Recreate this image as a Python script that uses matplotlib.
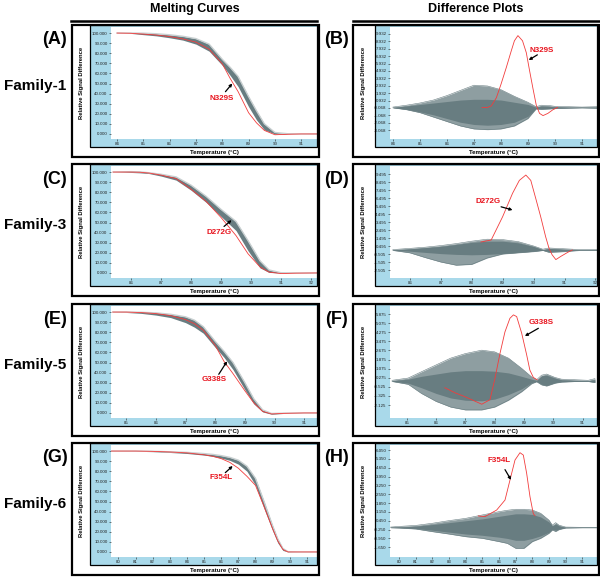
import matplotlib.pyplot as plt
from matplotlib.patches import Rectangle
from matplotlib.lines import Line2D

plt.rcParams['font.family'] = ['Liberation Sans', 'DejaVu Sans']

# ---- data ----
MELT_YTICKS = [100, 90, 80, 70, 60, 50, 40, 30, 20, 10, 0]

# Family-1
A_TEMP = [84.0, 84.5, 85.0, 85.5, 86.0, 86.5, 87.0, 87.5, 88.0, 88.3, 88.6, 89.0, 89.3, 89.6, 90.0, 90.5, 91.0, 91.6]
A_HI = [100, 100, 99.9, 99.3, 98.3, 96.8, 94.5, 89, 74, 66, 57, 37, 23, 10, 1.5, 0.2, 0, 0]
A_LO = [100, 99.7, 98.4, 97.2, 95.3, 93, 89, 82, 68, 58, 47, 27, 14, 4, 0, 0, 0, 0]
A_RED = [100, 99.8, 99, 98, 96.5, 94.2, 91, 84, 69.5, 55, 42, 21, 11, 3.5, -0.8, -0.3, 0, 0]
A_XTICKS = [84, 85, 86, 87, 88, 89, 90, 91]

B_TEMP = [84.0, 84.5, 85.0, 85.5, 86.0, 86.5, 87.0, 87.5, 88.0, 88.5, 89.0, 89.3, 89.5, 89.8, 90.0, 90.5, 91.0, 91.56]
B_HI = [0.05, 0.3, 0.6, 1.0, 1.6, 2.3, 3.0, 2.9, 2.4, 1.5, 0.7, 0.1, 0.3, 0.25, 0.15, 0.1, 0.05, 0.1]
B_LO = [-0.05, -0.3, -0.7, -1.3, -1.9, -2.5, -2.9, -3.0, -2.9, -2.5, -1.5, -0.2, -0.25, -0.2, -0.15, -0.1, -0.05, -0.1]
B_CORE_HI = [0.03, 0.2, 0.4, 0.6, 0.8, 1.0, 1.1, 1.1, 1.0, 0.7, 0.4, 0.05, 0.2, 0.15, 0.1, 0.05, 0.03, 0.05]
B_CORE_LO = [-0.03, -0.25, -0.6, -1.0, -1.5, -2.0, -2.3, -2.4, -2.3, -2.0, -1.2, -0.15, -0.2, -0.15, -0.1, -0.05, -0.03, -0.05]
B_RED_TEMP = [87.3, 87.5, 87.64, 87.83, 88.0, 88.2, 88.38, 88.5, 88.63, 88.8, 88.94, 89.06, 89.19, 89.31, 89.43, 89.56, 89.74, 89.93, 90.1]
B_RED = [0.0, 0.0, 0.2, 1.3, 3.1, 5.4, 7.6, 9.0, 9.7, 9.0, 7.4, 5.0, 2.5, 0.3, -0.8, -1.1, -0.8, -0.3, 0.0]
B_YTICKS = [9.932, 8.932, 7.932, 6.932, 5.932, 4.932, 3.932, 2.932, 1.932, 0.932, -0.068, -1.068, -2.068, -3.068]

# Family-3
C_TEMP = [85.4, 86.0, 86.3, 86.6, 87.0, 87.5, 88.0, 88.5, 89.0, 89.5, 89.9, 90.3, 90.6, 91.0, 91.5, 92.2]
C_HI = [100, 100.4, 100.2, 99.3, 97.8, 95.2, 87, 76, 63, 51, 32, 12, 3, 0.2, 0, 0]
C_LO = [100, 99.6, 99.2, 98.5, 96, 92, 82, 70, 56, 42, 22, 5, 0.5, 0, 0, 0]
C_RED = [100, 100, 99.8, 99.0, 97, 93.5, 83, 71, 55, 37, 19, 6, 0.8, -0.6, -0.2, 0]
C_XTICKS = [86, 87, 88, 89, 90, 91, 92]

D_TEMP = [85.45, 86.0, 86.5, 87.0, 87.5, 88.0, 88.5, 89.0, 89.5, 90.0, 90.3, 90.5, 91.0, 91.5, 92.05]
D_HI = [0.05, 0.2, 0.35, 0.55, 0.8, 1.1, 1.35, 1.3, 1.05, 0.5, 0.1, 0.25, 0.15, 0.05, 0.05]
D_LO = [-0.05, -0.35, -0.95, -1.5, -1.9, -1.8, -1.0, -0.5, -0.35, -0.2, -0.05, -0.3, -0.2, -0.05, -0.05]
D_CORE_HI = [0.03, 0.15, 0.3, 0.45, 0.7, 0.95, 1.1, 1.1, 0.9, 0.45, 0.05, 0.2, 0.1, 0.03, 0.03]
D_CORE_LO = [-0.03, -0.15, -0.3, -0.45, -0.55, -0.6, -0.55, -0.45, -0.3, -0.15, -0.05, -0.2, -0.1, -0.03, -0.03]
D_RED_TEMP = [88.3, 88.63, 89.0, 89.32, 89.54, 89.75, 89.91, 90.07, 90.23, 90.39, 90.5, 90.6, 90.72, 90.88, 91.1, 91.25]
D_RED = [1.0, 1.25, 4.16, 7.08, 8.7, 9.37, 8.7, 6.45, 4.16, 1.66, 0.2, -0.6, -1.2, -0.8, -0.3, 0.0]
D_YTICKS = [9.495, 8.495, 7.495, 6.495, 5.495, 4.495, 3.495, 2.495, 1.495, 0.495, -0.505, -1.505, -2.505]

# Family-5
E_TEMP = [84.55, 85.0, 85.5, 86.0, 86.5, 87.0, 87.3, 87.6, 88.0, 88.3, 88.6, 89.0, 89.3, 89.6, 89.9, 90.3, 91.0, 91.43]
E_HI = [100, 100, 99.8, 99.2, 97.8, 95.3, 92, 85.5, 71, 61, 50, 30, 14, 3, -0.5, -0.2, 0, 0]
E_LO = [100, 99.6, 98.7, 97, 94.5, 89.5, 85, 79, 65, 55, 43, 23, 9, 1, -1.3, -0.5, 0, 0]
E_RED = [100, 100, 99.5, 98.5, 96.5, 92.5, 88.5, 82, 67, 51, 39, 22, 10, 1.5, -1.0, -0.4, 0, 0]
E_XTICKS = [85, 86, 87, 88, 89, 90, 91]

F_TEMP = [84.5, 85.05, 85.5, 86.0, 86.5, 87.0, 87.56, 88.0, 88.47, 88.92, 89.26, 89.43, 89.6, 89.77, 90.06, 90.28, 90.74, 91.19, 91.42]
F_HI = [0.05, 0.25, 0.8, 1.4, 2.0, 2.4, 2.7, 2.55, 2.0, 1.1, 0.35, 0.1, 0.5, 0.6, 0.3, 0.15, 0.1, 0.05, 0.2]
F_LO = [-0.05, -0.3, -1.1, -1.8, -2.3, -2.55, -2.55, -2.3, -1.7, -0.95, -0.25, -0.07, -0.35, -0.45, -0.2, -0.1, -0.05, -0.05, -0.15]
F_CORE_HI = [0.03, 0.15, 0.4, 0.6, 0.8, 0.9, 0.9, 0.85, 0.7, 0.4, 0.15, 0.05, 0.45, 0.5, 0.25, 0.1, 0.05, 0.03, 0.1]
F_CORE_LO = [-0.03, -0.2, -0.6, -1.1, -1.5, -1.7, -1.75, -1.6, -1.2, -0.7, -0.15, -0.05, -0.3, -0.4, -0.15, -0.08, -0.05, -0.03, -0.1]
F_RED_TEMP = [86.3, 86.65, 87.0, 87.3, 87.56, 87.84, 88.0, 88.18, 88.35, 88.52, 88.64, 88.75, 88.92, 89.09, 89.2, 89.32, 89.45]
F_RED = [-0.6, -1.05, -1.4, -1.75, -2.05, -1.65, 0.1, 2.4, 4.3, 5.5, 5.8, 5.65, 4.2, 2.3, 0.95, 0.3, 0.1]
F_YTICKS = [5.875, 5.075, 4.275, 3.475, 2.675, 1.875, 1.075, 0.275, -0.525, -1.325, -2.125]

# Family-6
G_TEMP = [79.6, 81.0, 82.0, 83.0, 84.0, 85.0, 85.5, 86.0, 86.5, 87.0, 87.5, 88.0, 88.5, 89.0, 89.3, 89.6, 89.9, 90.5, 91.59]
G_HI = [100, 100, 99.8, 99.3, 98.7, 97.5, 96.7, 95.5, 93.8, 91, 85, 73, 50, 26, 13, 3.5, 0.3, 0, 0]
G_LO = [100, 99.8, 99.4, 98.6, 97.6, 96, 94.8, 93, 90.8, 87, 80, 66, 43, 21, 9, 1.5, 0, 0, 0]
G_RED = [100, 100, 99.7, 99.1, 98.2, 96.3, 94.8, 92.5, 88.8, 83, 75, 66, 45, 23, 11, 2.5, 0, 0, 0]
G_XTICKS = [80, 81, 82, 83, 84, 85, 86, 87, 88, 89, 90, 91]

H_TEMP = [79.5, 80.0, 81.0, 82.0, 83.0, 84.0, 85.0, 86.0, 86.5, 87.0, 87.5, 88.0, 88.5, 89.0, 89.2, 89.4, 89.6, 90.0, 91.0, 91.85]
H_HI = [-0.05, 0.0, 0.08, 0.25, 0.46, 0.64, 0.91, 1.17, 1.28, 1.36, 1.36, 1.3, 1.04, 0.5, 0.1, 0.3, 0.1, -0.05, -0.07, -0.07]
H_LO = [-0.1, -0.12, -0.2, -0.41, -0.6, -0.81, -0.94, -1.2, -1.34, -1.73, -1.73, -1.2, -0.94, -0.54, -0.28, -0.4, -0.25, -0.12, -0.1, -0.1]
H_CORE_HI = [-0.06, -0.04, 0.02, 0.15, 0.3, 0.45, 0.6, 0.8, 0.9, 1.0, 1.0, 0.95, 0.75, 0.35, 0.05, 0.2, 0.05, -0.06, -0.07, -0.07]
H_CORE_LO = [-0.09, -0.1, -0.16, -0.3, -0.45, -0.6, -0.7, -0.85, -0.95, -1.1, -1.1, -0.95, -0.75, -0.45, -0.22, -0.3, -0.2, -0.1, -0.09, -0.09]
H_RED_TEMP = [84.76, 85.16, 85.86, 86.36, 86.66, 86.96, 87.26, 87.46, 87.66, 87.86, 88.06, 88.16]
H_RED = [0.83, 0.78, 1.3, 2.09, 3.68, 5.26, 5.84, 5.65, 4.2, 2.35, 1.0, 0.85]
H_YTICKS = [6.05, 5.35, 4.65, 3.95, 3.25, 2.55, 1.85, 1.15, 0.45, -0.25, -0.95, -1.65]

FAMILIES = ["Family-1", "Family-3", "Family-5", "Family-6"]
LETTERS = [("(A)", "(B)"), ("(C)", "(D)"), ("(E)", "(F)"), ("(G)", "(H)")]

# ---- layout (pixels) ----
W, H = 600, 577
BLUE = '#a9d9ea'
GRAY = '#687d81'
GRAY_LIGHT = '#8e9ea1'
START = '#c9d0d1'
RED = '#f23c3c'
LABEL_RED = '#e8141e'
TOPS = [25, 164, 304, 443]
LEFT_COL = (72, 90, 111, 317, 319)    # outer, inner box, plot left, plot right, outer right
RIGHT_COL = (353, 375, 390, 597, 599)

fig = plt.figure(figsize=(W / 100, H / 100), dpi=100)


def frac(x0, y0, x1, y1):
    return [x0 / W, 1 - y1 / H, (x1 - x0) / W, (y1 - y0) / H]


def rect(x0, y0, x1, y1, **kw):
    l, b, w, h = frac(x0, y0, x1, y1)
    fig.add_artist(Rectangle((l, b), w, h, transform=fig.transFigure, **kw))


def ftext(x, y, s, **kw):
    fig.text(x / W, 1 - y / H, s, ha='center', va='center', **kw)


def panel(col, top, xticks, xlim, yticks, ylim):
    xo, xi, xp, xr, xo1 = col
    rect(xo, top, xo1, top + 132, facecolor='white', edgecolor='none', zorder=-3)
    rect(xi, top, xr, top + 122, facecolor=BLUE, edgecolor='none', zorder=-2)
    ax = fig.add_axes(frac(xp, top + 2, xr, top + 114))
    ax.set_facecolor('white')
    for sp in ax.spines.values():
        sp.set_visible(False)
    ax.set_xlim(*xlim)
    ax.set_ylim(*ylim)
    ax.set_xticks(xticks, [str(t) for t in xticks])
    ax.set_yticks(yticks, ['%.3f' % t for t in yticks])
    ax.tick_params(labelsize=3.2, length=1.5, width=0.4, pad=1, colors='#222222')
    rect(xi, top, xr, top + 122, facecolor='none', edgecolor='black', lw=0.9, zorder=3)
    rect(xo, top, xo1, top + 132, facecolor='none', edgecolor='black', lw=1.6, zorder=3)
    ftext((xo + xi) / 2, top + 58, 'Relative Signal Difference', rotation=90,
          fontsize=4.2, weight='bold')
    ftext((xp + xr) / 2, top + 127.5, 'Temperature (\u00b0C)', fontsize=4.4, weight='bold')
    return ax


def melt(ax, temp, hi, lo, red):
    ax.plot(temp, hi, color=START, lw=1.0)
    ax.fill_between(temp, lo, hi, color=GRAY, lw=0)
    ax.plot(temp, red, color=RED, lw=0.6)


def diff(ax, temp, hi, lo, core_hi, core_lo, red_temp, red):
    ax.fill_between(temp, lo, hi, color=GRAY_LIGHT, lw=0)
    ax.plot(temp, hi, color=GRAY, lw=0.4)
    ax.plot(temp, lo, color=GRAY, lw=0.4)
    ax.fill_between(temp, core_lo, core_hi, color=GRAY, lw=0)
    ax.plot(red_temp, red, color=RED, lw=0.6)


def mark(ax, label, text_xy, tail, head):
    ax.annotate('', xy=head, xytext=tail,
                arrowprops=dict(arrowstyle='-|>', color='black', lw=0.9,
                                mutation_scale=4, shrinkA=0, shrinkB=0))
    ax.text(text_xy[0], text_xy[1], label, color=LABEL_RED, fontsize=5.8,
            weight='bold', ha='center', va='center')


# headers
ftext(195, 9, 'Melting Curves', fontsize=9, weight='bold')
ftext(476, 9, 'Difference Plots', fontsize=9, weight='bold')
fig.add_artist(Line2D([71 / W, 317 / W], [1 - 21 / H] * 2, color='black', lw=1.8))
fig.add_artist(Line2D([353 / W, 600 / W], [1 - 21 / H] * 2, color='black', lw=1.8))

for top, fam, (la, lb) in zip(TOPS, FAMILIES, LETTERS):
    ftext(55, top + 15, la, fontsize=13, weight='bold')
    ftext(336, top + 15, lb, fontsize=13, weight='bold')
    ftext(35, top + 61, fam, fontsize=11, weight='bold')

# row 1
ax = panel(LEFT_COL, TOPS[0], A_XTICKS, (83.77, 91.6), MELT_YTICKS, (-5, 106))
melt(ax, A_TEMP, A_HI, A_LO, A_RED)
mark(ax, 'N329S', (87.96, 34.7), (88.12, 41.9), (88.38, 50))
ax = panel(RIGHT_COL, TOPS[0], A_XTICKS, (83.89, 91.56), B_YTICKS, (-4.26, 10.86))
diff(ax, B_TEMP, B_HI, B_LO, B_CORE_HI, B_CORE_LO, B_RED_TEMP, B_RED)
mark(ax, 'N329S', (89.5, 7.7), (89.35, 7.1), (89.03, 6.4))

# row 2
ax = panel(LEFT_COL, TOPS[1], C_XTICKS, (85.33, 92.2), MELT_YTICKS, (-5, 106))
melt(ax, C_TEMP, C_HI, C_LO, C_RED)
mark(ax, 'D272G', (88.93, 39.7), (89.1, 46.1), (89.35, 52.3))
ax = panel(RIGHT_COL, TOPS[1], C_XTICKS, (85.36, 92.05), D_YTICKS, (-3.5, 10.5))
diff(ax, D_TEMP, D_HI, D_LO, D_CORE_HI, D_CORE_LO, D_RED_TEMP, D_RED)
mark(ax, 'D272G', (88.52, 6.0), (88.95, 5.4), (89.32, 5.0))

# row 3
ax = panel(LEFT_COL, TOPS[2], E_XTICKS, (84.49, 91.43), MELT_YTICKS, (-5, 106))
melt(ax, E_TEMP, E_HI, E_LO, E_RED)
mark(ax, 'G338S', (87.95, 33), (88.12, 38.3), (88.4, 51.2))
ax = panel(RIGHT_COL, TOPS[2], E_XTICKS, (84.43, 91.49), F_YTICKS, (-3.26, 6.58))
diff(ax, F_TEMP, F_HI, F_LO, F_CORE_HI, F_CORE_LO, F_RED_TEMP, F_RED)
mark(ax, 'G338S', (89.6, 5.11), (89.49, 4.62), (89.03, 3.94))

# row 4
ax = panel(LEFT_COL, TOPS[3], G_XTICKS, (79.57, 91.59), MELT_YTICKS, (-5, 106))
melt(ax, G_TEMP, G_HI, G_LO, G_RED)
mark(ax, 'F354L', (86.0, 73.7), (86.24, 78.6), (86.67, 85.2))
ax = panel(RIGHT_COL, TOPS[3], G_XTICKS, (79.46, 91.88), H_YTICKS, (-2.42, 6.45))
diff(ax, H_TEMP, H_HI, H_LO, H_CORE_HI, H_CORE_LO, H_RED_TEMP, H_RED)
mark(ax, 'F354L', (86.0, 5.2), (86.36, 4.5), (86.72, 3.69))

fig.savefig('out.png', dpi=100, facecolor='white')
